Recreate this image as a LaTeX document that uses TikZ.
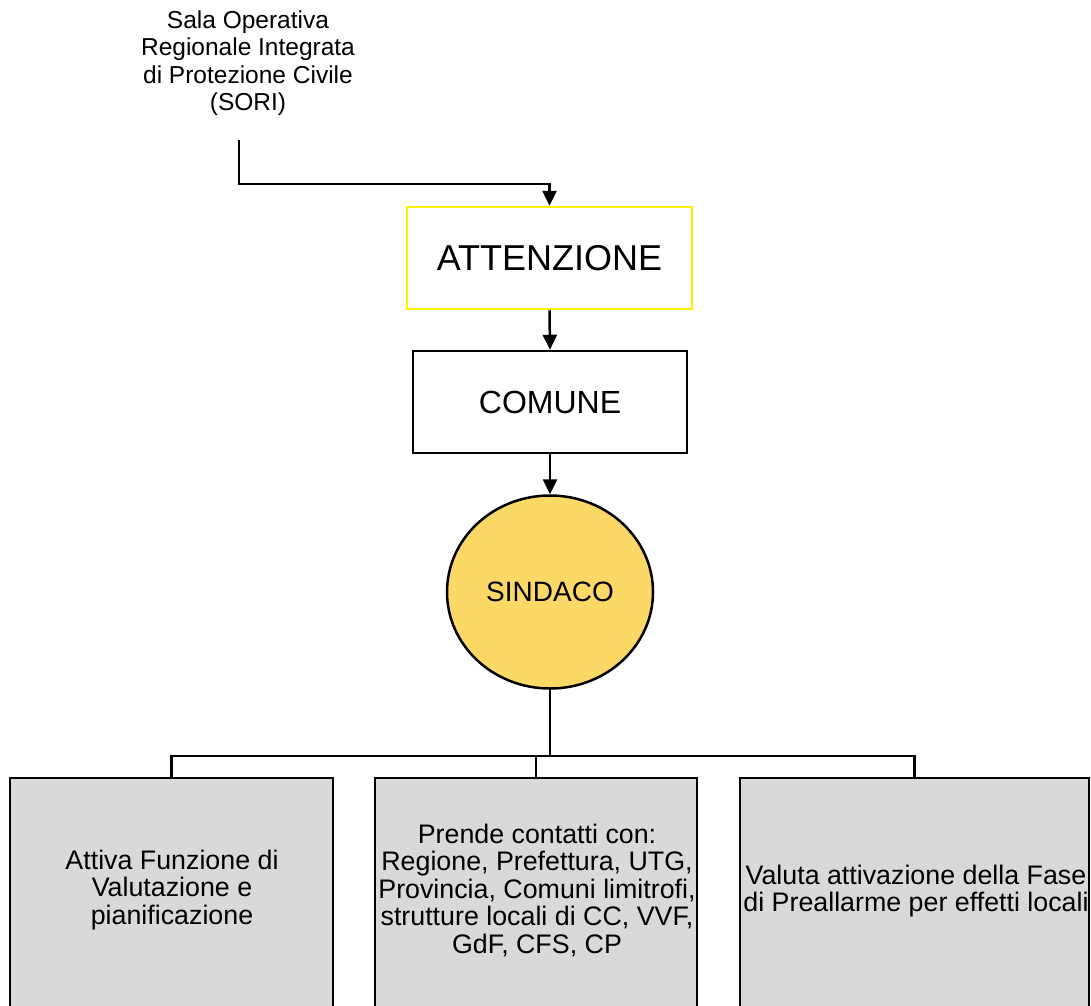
\documentclass[tikz,border=0pt]{standalone}
\usepackage{fontspec}
\setmainfont{Liberation Sans}
\usetikzlibrary{arrows.meta,shapes.geometric}
\begin{document}
\begin{tikzpicture}[x=1pt,y=-1pt,
  line/.style={draw=black,line width=2.5pt},
  arr/.style={line,-{Triangle[length=15pt,width=14pt]}},
  txt/.style={font=\fontsize{24.5}{27.5}\selectfont,align=center,inner sep=0pt},
  btxt/.style={font=\fontsize{26.8}{27.5}\selectfont,align=center,inner sep=0pt},
  actbox/.style={draw=black,line width=2.5pt,fill={rgb,255:red,217;green,217;blue,217},minimum height=240pt,anchor=north,inner sep=0pt},
]
\useasboundingbox (0,0) rectangle (1091,1005);
\clip (0,0) rectangle (1091,1005);
\node[txt] (sori) at (248,63) {Sala Operativa\\Regionale Integrata\\di Protezione Civile\\(SORI)};
\coordinate (s0) at (239,140);
\node[draw=yellow,line width=2.5pt,minimum width=285pt,minimum height=102pt,font=\fontsize{36}{40}\selectfont] (att) at (549.5,258) {ATTENZIONE};
\node[draw=black,line width=2.5pt,minimum width=274pt,minimum height=102pt,font=\fontsize{32}{36}\selectfont] (com) at (550,402) {COMUNE};
\node[ellipse,draw=black,line width=2.5pt,fill={rgb,255:red,252;green,217;blue,102},minimum width=206pt,minimum height=193pt,inner sep=0pt,font=\fontsize{28}{32}\selectfont] (sin) at (550,592) {SINDACO};
\node[actbox,minimum width=323pt] (b1) at (171.5,776.5) {};
\node[actbox,minimum width=322pt] (b2) at (536,776.5) {};
\node[actbox,minimum width=349pt] (b3) at (914.5,776.5) {};
\node[btxt] (t1) at (172,890) {Attiva Funzione di\\Valutazione e\\pianificazione};
\node[btxt] (t2) at (537,890) {Prende contatti con:\\Regione, Prefettura, UTG,\\Provincia, Comuni limitrofi,\\strutture locali di CC, VVF,\\GdF, CFS, CP};
\node[btxt] (t3) at (916,891) {Valuta attivazione della Fase\\di Preallarme per effetti locali};
\draw[arr] (s0) |- ([yshift=22pt]att.north) -- (att.north);
\draw[arr] (att.south) -- (com.north);
\draw[arr] (com.south) -- (sin.north);
\coordinate (bus) at (550,756);
\draw[line] (sin.south) -- (bus);
\draw[line] (b1.north) -- ++(0,-20.5) -| (b3.north);
\draw[line] (b2.north) -- ++(0,-20.5);
\end{tikzpicture}
\end{document}
